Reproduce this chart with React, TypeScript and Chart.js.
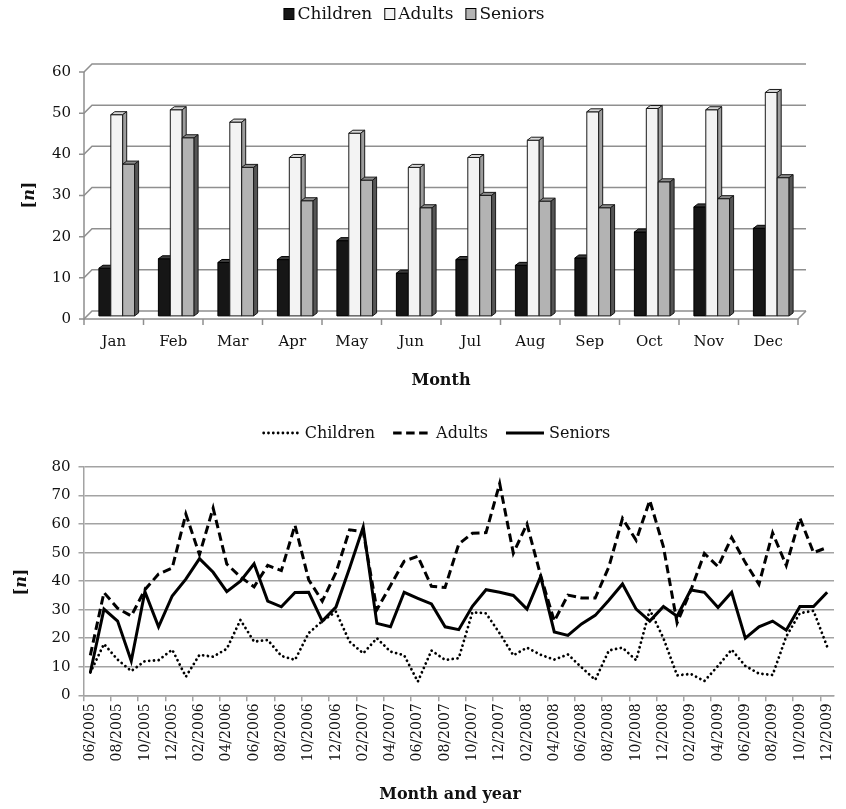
import { useEffect, useRef } from "react";
import { Chart, registerables } from "chart.js";

Chart.register(...registerables);

const FONT = "'DejaVu Serif', 'Liberation Serif', serif";
const GRID = "#8f8f8f";
const LINE_GRID = "#a3a3a3";
const TEXT = "#111111";

// ---- Monthly totals (3D column chart) ----
const MONTHS = ["Jan", "Feb", "Mar", "Apr", "May", "Jun", "Jul", "Aug", "Sep", "Oct", "Nov", "Dec"];
const CHILDREN_MONTHLY = [11.7, 14.0, 13.1, 13.8, 18.4, 10.5, 13.8, 12.4, 14.2, 20.5, 26.6, 21.4];
const ADULTS_MONTHLY = [49.0, 50.2, 47.2, 38.6, 44.5, 36.2, 38.6, 42.8, 49.7, 50.5, 50.2, 54.4];
const SENIORS_MONTHLY = [37.0, 43.4, 36.2, 28.1, 33.1, 26.4, 29.4, 28.0, 26.4, 32.7, 28.6, 33.7];
const BAR_Y_TICKS = [0, 10, 20, 30, 40, 50, 60];

// ---- Month-by-month series (line chart) ----
const PERIODS = [
  "06/2005", "07/2005", "08/2005", "09/2005", "10/2005", "11/2005", "12/2005",
  "01/2006", "02/2006", "03/2006", "04/2006", "05/2006", "06/2006", "07/2006", "08/2006", "09/2006", "10/2006", "11/2006", "12/2006",
  "01/2007", "02/2007", "03/2007", "04/2007", "05/2007", "06/2007", "07/2007", "08/2007", "09/2007", "10/2007", "11/2007", "12/2007",
  "01/2008", "02/2008", "03/2008", "04/2008", "05/2008", "06/2008", "07/2008", "08/2008", "09/2008", "10/2008", "11/2008", "12/2008",
  "01/2009", "02/2009", "03/2009", "04/2009", "05/2009", "06/2009", "07/2009", "08/2009", "09/2009", "10/2009", "11/2009", "12/2009",
];
const CHILDREN_SERIES = [
  8, 18, 12.5, 8.5, 12, 12.3, 16, 6.5, 14.2, 13.5, 16.3, 26.4, 18.8, 19.4, 13.8, 12.4, 21.8, 26, 29.3,
  18.8, 14.7, 20, 15.3, 14, 4.8, 15.7, 12.4, 13, 29.1, 28.7, 21.7, 14, 16.7, 14.2, 12.5, 14.3, 9.8,
  5.4, 15.7, 16.7, 12.3, 30, 20, 7, 7.5, 5, 10.3, 16, 10.3, 7.6, 7.1, 20.6, 28.8, 29.6, 17,
];
const ADULTS_SERIES = [
  14, 36, 30.5, 27.8, 37, 42.5, 44.6, 63.5, 49.3, 65.6, 46, 41.5, 38, 45.5, 43.7, 59.6, 40.5, 33, 43,
  58, 57.4, 30, 38.5, 47, 48.7, 38.2, 37.8, 53, 56.8, 57, 74.2, 49.8, 60, 42, 26, 35.1, 34.1,
  34.1, 45, 62, 54.3, 68.3, 52, 25.4, 36.7, 49.7, 45.1, 55.3, 46.5, 38.9, 56.9, 45.5, 62.1, 50, 51.8,
];
const SENIORS_SERIES = [
  8, 30.2, 26, 12, 36.3, 24, 34.8, 40.7, 47.9, 43.1, 36.3, 40, 46.1, 33, 31, 36, 36.1, 26, 30.9,
  44.6, 59, 25.2, 24, 36.1, 34, 32, 24, 23, 31.2, 37, 36.1, 35, 30.2, 41.6, 22.2, 21, 25,
  28, 33.3, 39, 30.2, 26, 31.1, 27.7, 36.9, 36.1, 30.8, 36.1, 20, 24, 26, 22.8, 31.1, 31.1, 36.1,
];

// Face colours of the extruded columns: front, top, right side
const BAR_FACES = [
  { front: "#161616", top: "#3c3c3c", side: "#050505", border: "#000000" },
  { front: "#f3f3f3", top: "#d8d8d8", side: "#9c9c9c", border: "#1a1a1a" },
  { front: "#b3b3b3", top: "#8c8c8c", side: "#555555", border: "#1a1a1a" },
];

// Depth of the 3D walls and of each column
const WALL_DX = 8;
const WALL_DY = 8;
const BAR_DX = 4;
const BAR_DY = 3;
const BAR_SHIFT_X = 3;
const BAR_SHIFT_Y = 2.6;

type Pt = [number, number];
function poly(ctx: CanvasRenderingContext2D, pts: Pt[], fill: string, stroke: string) {
  ctx.beginPath();
  ctx.moveTo(pts[0][0], pts[0][1]);
  for (let i = 1; i < pts.length; i++) ctx.lineTo(pts[i][0], pts[i][1]);
  ctx.closePath();
  ctx.fillStyle = fill;
  ctx.fill();
  ctx.strokeStyle = stroke;
  ctx.stroke();
}

// Draws the back/side walls, the floor and extruded columns
const columns3d = {
  id: "columns3d",
  beforeDatasetsDraw(chart: any) {
    const { ctx, chartArea } = chart;
    const { left, right } = chartArea;
    const ys = chart.scales.y;
    const xs = chart.scales.x;
    const y0 = ys.getPixelForValue(0);
    const yTop = ys.getPixelForValue(BAR_Y_TICKS[BAR_Y_TICKS.length - 1]);

    ctx.save();
    ctx.lineWidth = 1.5;
    ctx.strokeStyle = GRID;
    ctx.lineJoin = "miter";
    for (const v of BAR_Y_TICKS) {
      const py = ys.getPixelForValue(v);
      ctx.beginPath();
      ctx.moveTo(left - 5, py);
      ctx.lineTo(left, py);
      ctx.lineTo(left + WALL_DX, py - WALL_DY);
      ctx.lineTo(right + WALL_DX, py - WALL_DY);
      ctx.stroke();
    }
    ctx.beginPath();
    ctx.moveTo(left, yTop);
    ctx.lineTo(left, y0);
    ctx.lineTo(right, y0);
    ctx.lineTo(right + WALL_DX, y0 - WALL_DY);
    ctx.stroke();

    const n = MONTHS.length;
    const step = xs.getPixelForValue(1) - xs.getPixelForValue(0);
    for (let k = 0; k <= n; k++) {
      const px = xs.getPixelForValue(0) - step / 2 + k * step;
      ctx.beginPath();
      ctx.moveTo(px, y0);
      ctx.lineTo(px, y0 + 6);
      ctx.stroke();
    }

    ctx.lineWidth = 1;
    const metas = chart.data.datasets.map((_: any, i: number) => chart.getDatasetMeta(i));
    for (let j = 0; j < n; j++) {
      metas.forEach((meta: any, d: number) => {
        const el = meta.data[j];
        if (!el) return;
        const { x, y, base, width } = el.getProps(["x", "y", "base", "width"], true);
        const f = BAR_FACES[d];
        const x0 = x - width / 2 + BAR_SHIFT_X;
        const x1 = x + width / 2 + BAR_SHIFT_X;
        const yt = y - BAR_SHIFT_Y;
        const yb = base - BAR_SHIFT_Y;
        poly(ctx, [[x0, yt], [x1, yt], [x1, yb], [x0, yb]], f.front, f.border);
        poly(ctx, [[x0, yt], [x1, yt], [x1 + BAR_DX, yt - BAR_DY], [x0 + BAR_DX, yt - BAR_DY]], f.top, f.border);
        poly(ctx, [[x1, yt], [x1 + BAR_DX, yt - BAR_DY], [x1 + BAR_DX, yb - BAR_DY], [x1, yb]], f.side, f.border);
      });
    }
    ctx.restore();
    return false;
  },
};

function drawYCaption(ctx: CanvasRenderingContext2D, cx: number, cy: number) {
  const parts: [string, string][] = [
    ["[", `bold 16px ${FONT}`],
    ["n", `italic bold 16px ${FONT}`],
    ["]", `bold 16px ${FONT}`],
  ];
  ctx.save();
  ctx.translate(cx, cy);
  ctx.rotate(-Math.PI / 2);
  ctx.textBaseline = "middle";
  ctx.textAlign = "left";
  ctx.fillStyle = TEXT;
  let total = 0;
  for (const [t, f] of parts) {
    ctx.font = f;
    total += ctx.measureText(t).width;
  }
  let x = -total / 2;
  for (const [t, f] of parts) {
    ctx.font = f;
    ctx.fillText(t, x, 0);
    x += ctx.measureText(t).width;
  }
  ctx.restore();
}

// Legend, axis captions
const captions = {
  id: "captions",
  afterDraw(chart: any, _args: any, opts: any) {
    const { ctx } = chart;
    const ds = chart.data.datasets;
    ctx.save();
    ctx.font = `${opts.legendSize}px ${FONT}`;
    ctx.textBaseline = "middle";
    ctx.textAlign = "left";
    const widths = ds.map((d: any) => ctx.measureText(d.label).width);
    const sw = opts.sampleWidth;
    const total =
      widths.reduce((a: number, b: number) => a + b, 0) +
      ds.length * (sw + opts.sampleGap) +
      (ds.length - 1) * opts.itemGap;
    let x = opts.legendX - total / 2;
    const ly = opts.legendY;
    ds.forEach((d: any, i: number) => {
      if (opts.kind === "box") {
        const f = BAR_FACES[i];
        ctx.fillStyle = f.front;
        ctx.fillRect(x + 0.5, ly - 5.5, sw - 1, 11);
        ctx.strokeStyle = "#000";
        ctx.lineWidth = 1;
        ctx.strokeRect(x + 0.5, ly - 5.5, sw - 1, 11);
      } else {
        ctx.save();
        ctx.strokeStyle = d.borderColor;
        ctx.lineWidth = d.borderWidth;
        ctx.lineCap = d.borderCapStyle || "butt";
        ctx.setLineDash(d.borderDash || []);
        ctx.beginPath();
        ctx.moveTo(x + (d.borderCapStyle === "round" ? 2 : 0), ly);
        ctx.lineTo(x + sw, ly);
        ctx.stroke();
        ctx.restore();
      }
      x += sw + opts.sampleGap;
      ctx.fillStyle = TEXT;
      ctx.font = `${opts.legendSize}px ${FONT}`;
      ctx.fillText(d.label, x, ly + 1);
      x += widths[i] + opts.itemGap;
    });

    ctx.font = `bold 16px ${FONT}`;
    ctx.textAlign = "center";
    ctx.fillStyle = TEXT;
    ctx.fillText(opts.xTitle, opts.xTitleX, opts.xTitleY);
    ctx.restore();
    drawYCaption(ctx, opts.yTitleX, opts.yTitleY);
  },
};

function MonthlyColumns() {
  const ref = useRef<HTMLCanvasElement>(null);
  useEffect(() => {
    const chart = new Chart(ref.current!, {
      type: "bar",
      data: {
        labels: MONTHS,
        datasets: [
          { label: "Children", data: CHILDREN_MONTHLY },
          { label: "Adults", data: ADULTS_MONTHLY },
          { label: "Seniors", data: SENIORS_MONTHLY },
        ].map((d, i) => ({
          ...d,
          backgroundColor: BAR_FACES[i].front,
          borderColor: BAR_FACES[i].border,
          borderWidth: 1,
          categoryPercentage: 0.6,
          barPercentage: 1,
        })),
      },
      options: {
        animation: false,
        responsive: false,
        devicePixelRatio: 1,
        events: [],
        layout: { padding: { top: 72, right: 48, left: 0, bottom: 0 } },
        plugins: {
          legend: { display: false },
          tooltip: { enabled: false },
          captions: {
            kind: "box",
            legendSize: 17,
            legendX: 414,
            legendY: 14,
            sampleWidth: 11,
            sampleGap: 3,
            itemGap: 12,
            xTitle: "Month",
            xTitleX: 441,
            xTitleY: 381,
            yTitleX: 30,
            yTitleY: 195,
          },
        } as any,
        scales: {
          x: {
            grid: { display: true, color: "transparent", drawOnChartArea: false, tickLength: 8 },
            border: { display: false },
            ticks: { font: { family: FONT, size: 15 }, color: TEXT, padding: 6 },
            afterFit: (s: any) => {
              s.height = 81;
            },
          },
          y: {
            min: 0,
            max: 60,
            grid: { display: true, color: "transparent", drawOnChartArea: false, tickLength: 6 },
            border: { display: false },
            ticks: { stepSize: 10, font: { family: FONT, size: 15 }, color: TEXT, padding: 7 },
            afterFit: (s: any) => {
              s.width = 84;
            },
          },
        },
      },
      plugins: [columns3d, captions],
    });
    return () => chart.destroy();
  }, []);
  return (
    <canvas
      ref={ref}
      width={846}
      height={400}
      style={{ position: "absolute", left: 0, top: 0, width: 846, height: 400, display: "block" }}
    />
  );
}

function MonthlySeries() {
  const ref = useRef<HTMLCanvasElement>(null);
  useEffect(() => {
    const chart = new Chart(ref.current!, {
      type: "line",
      data: {
        labels: PERIODS,
        datasets: [
          {
            label: "Children",
            data: CHILDREN_SERIES,
            borderColor: "#000",
            borderWidth: 2.8,
            borderDash: [0.01, 4.8],
            borderCapStyle: "round",
          },
          {
            label: "Adults",
            data: ADULTS_SERIES,
            borderColor: "#000",
            borderWidth: 3,
            borderDash: [8.5, 4.5],
          },
          {
            label: "Seniors",
            data: SENIORS_SERIES,
            borderColor: "#000",
            borderWidth: 3,
          },
        ].map((d) => ({ ...d, pointRadius: 0, tension: 0, fill: false, borderJoinStyle: "miter" as const })),
      },
      options: {
        animation: false,
        responsive: false,
        devicePixelRatio: 1,
        events: [],
        layout: { padding: { top: 67, right: 2, left: 0, bottom: 0 } },
        plugins: {
          legend: { display: false },
          tooltip: { enabled: false },
          captions: {
            kind: "line",
            legendSize: 16,
            legendX: 436,
            legendY: 33,
            sampleWidth: 38,
            sampleGap: 5,
            itemGap: 18,
            xTitle: "Month and year",
            xTitleX: 450,
            xTitleY: 395,
            yTitleX: 22,
            yTitleY: 182,
          },
        } as any,
        scales: {
          x: {
            offset: true,
            grid: {
              offset: true,
              drawOnChartArea: false,
              tickLength: 6,
              lineWidth: 1.5,
              color: (c: any) => (c.index % 2 === 0 ? LINE_GRID : "transparent"),
            },
            border: { color: LINE_GRID, width: 1.5 },
            ticks: {
              autoSkip: false,
              maxRotation: 90,
              minRotation: 90,
              padding: 2,
              font: { family: FONT, size: 14 },
              color: TEXT,
              callback: (_v: any, i: number) => (i % 2 === 0 ? PERIODS[i] : ""),
            },
            afterFit: (s: any) => {
              s.height = 113.7;
            },
          },
          y: {
            min: 0,
            max: 80,
            grid: { color: LINE_GRID, lineWidth: 1.5, tickLength: 5 },
            border: { color: LINE_GRID, width: 1.5 },
            ticks: { stepSize: 10, font: { family: FONT, size: 15 }, color: TEXT, padding: 8 },
            afterFit: (s: any) => {
              s.width = 83.5;
            },
          },
        },
      },
      plugins: [captions],
    });
    return () => chart.destroy();
  }, []);
  return (
    <canvas
      ref={ref}
      width={846}
      height={409}
      style={{ position: "absolute", left: 0, top: 400, width: 846, height: 409, display: "block" }}
    />
  );
}

export default function App() {
  return (
    <div style={{ position: "absolute", left: 0, top: 0, width: 846, height: 809, background: "#ffffff" }}>
      <MonthlyColumns />
      <MonthlySeries />
    </div>
  );
}
